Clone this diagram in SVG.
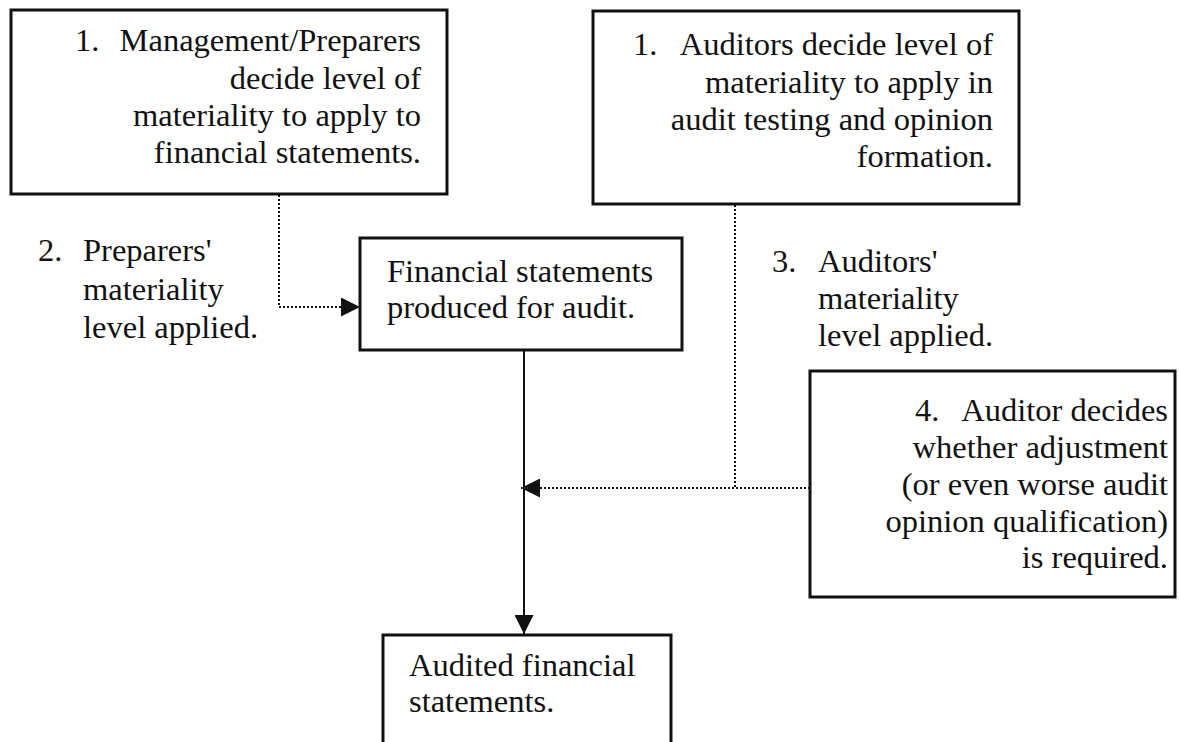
<svg xmlns="http://www.w3.org/2000/svg" width="1179" height="742" viewBox="0 0 1179 742">
  <style>
    .box { fill: #fff; stroke: #111; stroke-width: 3; }
    .t { font-family: "Liberation Serif", "Times New Roman", serif; font-size: 32.5px; fill: #111; }
    .r { text-anchor: end; }
    .solid { fill: none; stroke: #111; stroke-width: 2; }
    .dot { fill: none; stroke: #111; stroke-width: 2; stroke-dasharray: 2 2; }
  </style>
  <defs>
    <marker id="head" markerUnits="userSpaceOnUse" viewBox="0 0 19 19" refX="19" refY="9.5" markerWidth="19" markerHeight="19" orient="auto">
      <path d="M0,0 L19,9.5 L0,19 z" fill="#111"/>
    </marker>
  </defs>
  <rect width="1179" height="742" fill="#fff"/>

  <!-- connectors -->
  <g id="connectors">
    <path class="dot" d="M279,195 V307 H360" marker-end="url(#head)"/>
    <path class="solid" d="M524,350 V634" marker-end="url(#head)"/>
    <path class="dot" d="M735,205 V488"/>
    <path class="dot" d="M810,488 H521" marker-end="url(#head)"/>
  </g>

  <!-- preparers' materiality decision -->
  <g id="node-preparers">
    <rect class="box" x="11" y="10" width="436" height="184"/>
    <text class="t" x="75" y="51">1.</text>
    <text class="t r" x="421" y="51">Management/Preparers</text>
    <text class="t r" x="421" y="89">decide level of</text>
    <text class="t r" x="421" y="126">materiality to apply to</text>
    <text class="t r" x="421" y="163">financial statements.</text>
  </g>

  <!-- auditors' materiality decision -->
  <g id="node-auditors">
    <rect class="box" x="593" y="11" width="426" height="193"/>
    <text class="t" x="633" y="55">1.</text>
    <text class="t r" x="993" y="55">Auditors decide level of</text>
    <text class="t r" x="993" y="93">materiality to apply in</text>
    <text class="t r" x="993" y="130">audit testing and opinion</text>
    <text class="t r" x="993" y="167">formation.</text>
  </g>

  <!-- step 2 label -->
  <g id="label-preparers-applied">
    <text class="t" x="38" y="261">2.</text>
    <text class="t" x="83" y="261">Preparers'</text>
    <text class="t" x="83" y="300">materiality</text>
    <text class="t" x="83" y="338">level applied.</text>
  </g>

  <!-- step 3 label -->
  <g id="label-auditors-applied">
    <text class="t" x="772" y="272">3.</text>
    <text class="t" x="818" y="272">Auditors'</text>
    <text class="t" x="818" y="309">materiality</text>
    <text class="t" x="818" y="346">level applied.</text>
  </g>

  <!-- statements produced -->
  <g id="node-statements">
    <rect class="box" x="360" y="238" width="322" height="112"/>
    <text class="t" x="387" y="282">Financial statements</text>
    <text class="t" x="387" y="318">produced for audit.</text>
  </g>

  <!-- adjustment decision -->
  <g id="node-adjustment">
    <rect class="box" x="810" y="371" width="365" height="226"/>
    <text class="t r" x="1168" y="421"><tspan>4.</tspan><tspan dx="22">Auditor decides</tspan></text>
    <text class="t r" x="1168" y="458">whether adjustment</text>
    <text class="t r" x="1168" y="495">(or even worse audit</text>
    <text class="t r" x="1168" y="532">opinion qualification)</text>
    <text class="t r" x="1168" y="568">is required.</text>
  </g>

  <!-- audited statements -->
  <g id="node-audited">
    <rect class="box" x="383" y="635" width="288" height="120"/>
    <text class="t" x="409" y="676">Audited financial</text>
    <text class="t" x="409" y="712">statements.</text>
  </g>
</svg>
